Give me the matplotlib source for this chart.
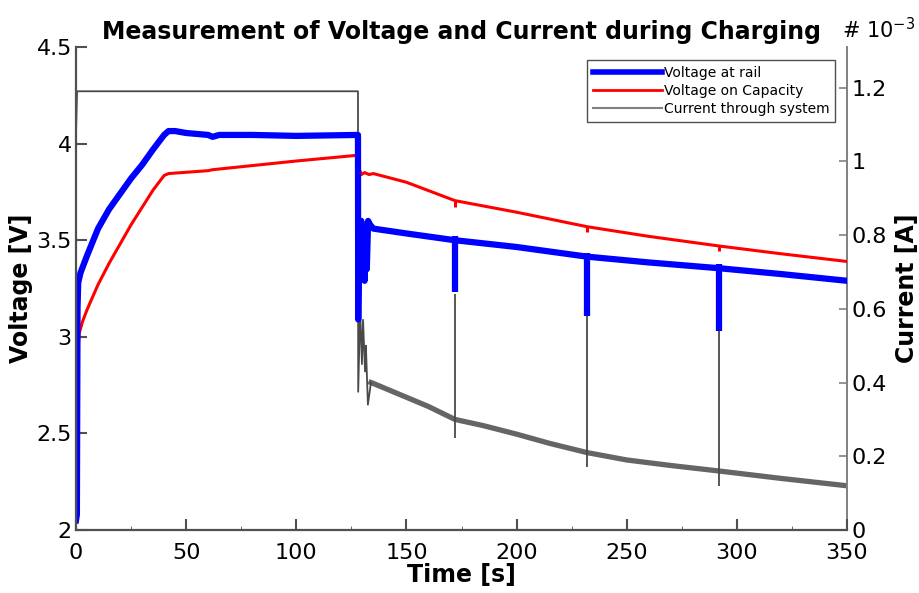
import numpy as np
import matplotlib.pyplot as plt
from matplotlib.lines import Line2D

# voltage at rail [V]
t_rail = [0, 0.4, 0.7, 1.0, 2, 5, 10, 15, 20, 25, 30, 35, 40, 42, 45, 50, 55, 60, 62, 65,
          80, 100, 128, 128.1, 128.6, 129.0, 129.5, 130.0, 130.6, 131.0, 131.5, 132.0, 132.6,
          133.5, 135, 150, 172, 200, 232, 260, 292, 320, 350]
v_rail = [2.05, 2.08, 3.15, 3.28, 3.33, 3.42, 3.56, 3.66, 3.74, 3.82, 3.89, 3.97, 4.045, 4.065,
          4.065, 4.055, 4.05, 4.045, 4.035, 4.045, 4.045, 4.04, 4.045, 3.09, 3.55, 3.30, 3.60,
          3.35, 3.50, 3.29, 3.45, 3.35, 3.60, 3.58, 3.56, 3.535, 3.50, 3.465, 3.415, 3.385,
          3.355, 3.325, 3.29]
rail_spike_t = [172, 232, 292]
rail_spike_v = [3.23, 3.11, 3.03]

# voltage on capacity [V]
t_cap = [0, 0.5, 1.0, 1.5, 3, 5, 10, 15, 20, 25, 30, 35, 40, 42, 60, 62, 100, 128, 128.3,
         128.8, 129.5, 131, 133, 135, 150, 172, 200, 232, 260, 292, 320, 350]
v_cap = [2.10, 2.15, 2.95, 3.02, 3.08, 3.14, 3.27, 3.38, 3.48, 3.58, 3.67, 3.76, 3.835, 3.845,
         3.86, 3.865, 3.91, 3.94, 3.70, 3.86, 3.84, 3.85, 3.84, 3.845, 3.80, 3.705, 3.645,
         3.57, 3.52, 3.47, 3.43, 3.39]
cap_spike_t = [172, 232, 292]
cap_spike_v = [3.67, 3.545, 3.445]

# current through system [mA]
t_cur = [0, 0.5, 128, 128.1, 129.0, 129.8, 130.3, 131.2, 131.6, 132.5, 133.9, 136, 150,
         160, 172, 185, 200, 215, 232, 250, 270, 292, 320, 350]
i_cur = [1.075, 1.19, 1.19, 0.375, 0.60, 0.45, 0.57, 0.43, 0.50, 0.34, 0.40, 0.395, 0.36,
         0.335, 0.30, 0.283, 0.26, 0.235, 0.21, 0.19, 0.175, 0.16, 0.14, 0.12]
cur_spike_t = [172, 232, 292]
cur_spike_top = [0.64, 0.58, 0.54]
cur_spike_bot = [0.25, 0.17, 0.12]

fig = plt.figure(figsize=(9.2, 5.93), dpi=100)
ax1 = fig.add_axes([0.0826, 0.1062, 0.8381, 0.8145])
ax2 = ax1.twinx()
ax1.set_zorder(ax2.get_zorder() + 1)
ax1.patch.set_visible(False)

grey = '#4a4a4a'
t_cur = np.array(t_cur)
i_cur = np.array(i_cur)
head = t_cur <= 134
tail = t_cur >= 133.9
ax2.plot(t_cur[head], i_cur[head], color=grey, lw=1.3)
ax2.plot(t_cur[tail], i_cur[tail], color=grey, lw=3.8, alpha=0.85)
ax2.vlines(cur_spike_t, cur_spike_bot, cur_spike_top, color=grey, lw=1.3)

ax1.plot(t_cap, v_cap, color='#ff0000', lw=2.2)
ax1.vlines(cap_spike_t, cap_spike_v, np.interp(cap_spike_t, t_cap, v_cap), color='#ff0000', lw=2.2)
ax1.plot(t_rail, v_rail, color='#0000ff', lw=4.5)
ax1.vlines(rail_spike_t, rail_spike_v, np.interp(rail_spike_t, t_rail, v_rail) + 0.02,
           color='#0000ff', lw=4.5)

ax1.set_xlim(0, 350)
ax1.set_ylim(2, 4.5)
ax2.set_ylim(0, 1.31)
ax1.set_xticks(np.arange(0, 351, 50))
ax1.set_xticks(np.arange(0, 351, 25), minor=True)
ax1.set_yticks(np.arange(2, 4.51, 0.5))
ax1.set_yticklabels(['2', '2.5', '3', '3.5', '4', '4.5'])
ax2.set_yticks(np.arange(0, 1.21, 0.2))
ax2.set_yticklabels(['0', '0.2', '0.4', '0.6', '0.8', '1', '1.2'])

for ax in (ax1, ax2):
    ax.spines['top'].set_visible(False)
for side in ('left', 'bottom'):
    ax1.spines[side].set_color('#505050')
    ax1.spines[side].set_linewidth(1.6)
ax1.spines['right'].set_visible(False)
ax2.spines['left'].set_visible(False)
ax2.spines['bottom'].set_visible(False)
ax2.spines['right'].set_color('#808080')
ax2.spines['right'].set_linewidth(1.4)

ax1.tick_params(axis='both', direction='in', labelsize=16, length=8, width=1.5, color='#505050')
ax1.tick_params(axis='x', pad=9)
ax1.tick_params(axis='y', pad=3)
ax1.tick_params(axis='x', which='minor', direction='in', length=3, color='#505050')
ax2.tick_params(axis='y', direction='in', labelsize=16, length=6, width=1.2, color='#808080', pad=3)

ax1.set_xlabel('Time [s]', fontsize=17, fontweight='bold', labelpad=0)
ax1.set_ylabel('Voltage [V]', fontsize=17, fontweight='bold')
ax1.yaxis.set_label_coords(-0.056, 0.5)
ax2.set_ylabel('Current [A]', fontsize=17, fontweight='bold')
ax2.yaxis.set_label_coords(1.062, 0.5)
ax1.set_title('Measurement of Voltage and Current during Charging', fontsize=17,
              fontweight='bold', pad=6)
ax2.text(0.994, 1.01, '# 10$^{-3}$', transform=ax2.transAxes, fontsize=15, ha='left', va='bottom')

handles = [Line2D([], [], color='#0000ff', lw=4),
           Line2D([], [], color='#ff0000', lw=2),
           Line2D([], [], color='#808080', lw=1.5)]
leg = ax1.legend(handles, ['Voltage at rail', 'Voltage on Capacity', 'Current through system'],
                 loc='upper right', bbox_to_anchor=(0.984, 0.973), fontsize=10, fancybox=False,
                 framealpha=1, edgecolor='#505050', borderpad=0.4, labelspacing=0.3,
                 handlelength=5, handletextpad=0.1, borderaxespad=0)
leg.get_frame().set_linewidth(1)

fig.savefig('out.png', dpi=100)
